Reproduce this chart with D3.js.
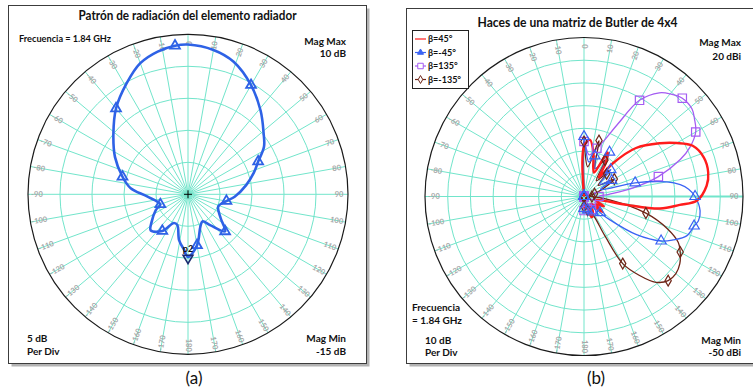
<!DOCTYPE html>
<html>
<head>
<meta charset="utf-8">
<script src="https://cdn.jsdelivr.net/npm/d3@7"></script>
<style>
  html, body { margin: 0; padding: 0; background: #fff; }
  svg { display: block; font-family: Lato, "Open Sans", sans-serif; }
</style>
</head>
<body>
<svg id="chart" width="753" height="389"></svg>
<script>
// ---------------- data ----------------
// spoke labels (degrees, clockwise from the top)
const spokeAngles = [-170,-160,-150,-140,-130,-120,-110,-100,-90,-80,-70,-60,-50,-40,-30,-20,-10,
                     0,10,20,30,40,50,60,70,80,90,100,110,120,130,140,150,160,170,180];

// (a) radiating element pattern, dB
const angA  = [-180,-176,-169,-161,-154,-145,-134,-127,-116,-110,-93,-84,-75,-63,-51,-40,-29,-20,-12,-5,
               0,10,19,30,41,51,58,65,72,81,93,100,112,126,135,144,152,159,170];
const gainA = [-5.2,-6.3,-7.7,-9.9,-10.0,-8.0,-6.9,-7.9,-9.4,-10.4,-8.6,-6.0,-4.4,-2.2,0.0,2.5,4.8,6.8,7.8,8.3,
               8.4,7.9,6.9,4.7,2.3,0.2,-1.0,-2.9,-4.2,-5.8,-7.7,-8.9,-9.9,-8.7,-6.8,-9.0,-10.2,-9.6,-6.9];
const markA = [-145,-110,-75,-40,-5,30,65,100,135,170];
const p2A   = { angle: 180, gain: -5.2 };

// (b) Butler matrix beams, dBi
const backAng = [-165,-150,-135,-120,-105,-90,-75,-60,-45,-30,-15];

const ang45  = [0,6,12,18,23,28,33,38,41,47,55,60,65,72,79,85,92,95,99,101,103,108,116,124,130,138,150,160,170,180];
const gain45 = [-28.0,-24.9,-30.2,-36.8,-38.6,-28.0,-32.4,-39.4,-30.6,-18.7,-9.1,-2.9,2.8,5.5,5.7,4.2,-0.2,-7.7,-16.1,-30.6,
                -43.0,-44.7,-40.3,-43.8,-39.4,-45.6,-42.1,-40.3,-46.5,-44.7];

const angM45  = [0,8,15,22,30,38,45,52,60,67,75,80,83,86,90,97,102,105,111,116,120,126,132,135,142,150,158,165,172,180];
const gainM45 = [-23.6,-34.6,-31.5,-36.8,-27.5,-39.0,-33.3,-41.2,-35.9,-42.1,-26.7,-13.0,-7.3,-3.8,-1.1,1.5,1.5,0.2,-1.6,-6.4,
                 -10.8,-21.4,-34.6,-39.9,-45.6,-42.1,-46.5,-43.8,-47.4,-44.7];

const ang135  = [0,7,15,20,25,30,36,40,45,51,55,60,65,69,75,80,85,90,100,110,122,135,150,165,180];
const gain135 = [-25.8,-31.5,-28.0,-23.6,-14.8,-1.1,6.4,9.0,11.2,11.2,9.4,6.8,1.5,-4.6,-16.1,-28.0,-39.0,-43.4,-41.2,-44.3,
                 -41.6,-45.6,-43.4,-44.7,-43.8];

const angM135  = [0,7,15,22,30,38,45,52,60,68,75,82,90,97,105,111,116,120,125,130,135,140,145,150,152,154,165,172,180];
const gainM135 = [-25.8,-36.8,-24.5,-36.8,-31.5,-41.2,-35.9,-42.1,-34.6,-41.2,-45.2,-47.8,-46.5,-39.0,-21.8,-10.8,-3.8,-1.1,
                  1.5,2.8,2.4,-0.7,-7.7,-15.9,-30.2,-41.2,-43.8,-47.4,-45.6];

// values behind the array sit at the plot floor
const backGain = [-50,-50,-50,-50,-50,-50,-50,-50,-50,-50,-50];

const seriesNames = ["β=45°", "β=-45°", "β=135°", "β=-135°"];

// ---------------- drawing ----------------
const svg = d3.select("#chart");
const gridColor = "#72e5cb";
const labelColor = "#a8a8a8";
const rad = d => d * Math.PI / 180;

function panel(x, y, w, h) {
  svg.append("rect").attr("x", x + 3).attr("y", y + 3).attr("width", w).attr("height", h).attr("fill", "#b3b3b3");
  svg.append("rect").attr("x", x).attr("y", y).attr("width", w).attr("height", h)
    .attr("fill", "#fff").attr("stroke", "#3c3c3c").attr("stroke-width", 1);
}

function fit(sel, w) {
  const n = sel.node();
  if (n.getComputedTextLength() > w) sel.attr("textLength", w).attr("lengthAdjust", "spacingAndGlyphs");
  return sel;
}

function text(x, y, str, opts = {}) {
  const t = svg.append("text").attr("x", x).attr("y", y).text(str)
    .attr("font-size", opts.size || 10)
    .attr("font-weight", opts.weight || 700)
    .attr("text-anchor", opts.anchor || "start")
    .attr("fill", opts.fill || "#111");
  if (opts.fit) fit(t, opts.fit);
  return t;
}

function polarGrid(g, R, nRings, opts = {}) {
  g.selectAll("circle.ring").data(d3.range(1, nRings)).join("circle")
    .attr("r", i => R * i / nRings).attr("fill", "none")
    .attr("stroke", gridColor).attr("stroke-width", 1);
  g.selectAll("line.spoke").data(spokeAngles).join("line")
    .attr("x1", 0).attr("y1", 0)
    .attr("x2", d => R * Math.sin(rad(d))).attr("y2", d => -R * Math.cos(rad(d)))
    .attr("stroke", gridColor)
    .attr("stroke-width", d => (opts.thick90 && d === 90) ? 2.2 : 1);
  g.append("circle").attr("r", R).attr("fill", "none").attr("stroke", "#1a1a1a").attr("stroke-width", 1.2);
  const lr = R - 9;
  g.selectAll("text.alab").data(spokeAngles).join("text")
    .attr("transform", d => {
      const x = lr * Math.sin(rad(d)), y = -lr * Math.cos(rad(d));
      const rot = d > 0 ? d - 90 : d + 90;
      return `translate(${x},${y}) rotate(${rot})`;
    })
    .attr("text-anchor", "middle").attr("dominant-baseline", "central")
    .attr("font-size", 7.5).attr("font-weight", 700).attr("fill", labelColor)
    .text(d => String(d));
}

// ---------- panel (a) ----------
panel(8.5, 5.5, 358, 358);
const A = { cx: 188, cy: 194.3, R: 160 };
const gA = svg.append("g").attr("transform", `translate(${A.cx},${A.cy})`);
polarGrid(gA, A.R, 5);
const rA = d3.scaleLinear().domain([-15, 10]).range([0, A.R]).clamp(true);

const ptsA = angA.map((a, i) => ({ a, g: gainA[i] }));
const lineA = d3.lineRadial().angle(d => rad(d.a)).radius(d => rA(d.g))
  .curve(d3.curveCatmullRomClosed.alpha(0.5));
gA.append("path").datum(ptsA).attr("d", lineA)
  .attr("fill", "none").attr("stroke", "#2e62e6").attr("stroke-width", 2.6);

const tri = d3.symbol(d3.symbolTriangle, 42);
gA.selectAll("path.mk").data(ptsA.filter(d => markA.includes(d.a))).join("path")
  .attr("d", tri)
  .attr("transform", d => `translate(${rA(d.g) * Math.sin(rad(d.a))},${-rA(d.g) * Math.cos(rad(d.a))})`)
  .attr("fill", "none").attr("stroke", "#2e62e6").attr("stroke-width", 1.8);

// marker p2
{
  const r = rA(p2A.gain), x = r * Math.sin(rad(p2A.angle)), y = -r * Math.cos(rad(p2A.angle));
  gA.append("path").attr("d", tri).attr("transform", `translate(${x},${y + 1}) rotate(180)`)
    .attr("fill", "none").attr("stroke", "#1b2b70").attr("stroke-width", 1.6);
  gA.append("text").attr("x", x).attr("y", y - 5).attr("text-anchor", "middle")
    .attr("font-size", 9).attr("font-weight", 700).attr("fill", "#111").text("p2");
}
// centre cross
gA.append("path").attr("d", "M-4,0H4M0,-4V4").attr("stroke", "#000").attr("stroke-width", 1);

text(187.5, 20, "Patrón de radiación del elemento radiador", { size: 13, anchor: "middle", fit: 218 });
text(19, 42, "Frecuencia = 1.84 GHz", { size: 10, fit: 92 });
text(346, 45, "Mag Max", { size: 10, anchor: "end" });
text(346, 57, "10 dB", { size: 10, anchor: "end" });
text(27, 342, "5 dB", { size: 10 });
text(27, 355, "Per Div", { size: 10 });
text(346, 342, "Mag Min", { size: 10, anchor: "end" });
text(346, 355, "-15 dB", { size: 10, anchor: "end" });
text(194, 384, "(a)", { size: 17, weight: 400, anchor: "middle" });

// ---------- panel (b) ----------
panel(406.5, 8.5, 360, 355);
const B = { cx: 584, cy: 196.5, R: 159 };
const gB = svg.append("g").attr("transform", `translate(${B.cx},${B.cy})`);
polarGrid(gB, B.R, 7, { thick90: true });
const rB = d3.scaleLinear().domain([-50, 20]).range([0, B.R]).clamp(true);

const seriesB = [
  { name: seriesNames[2], ang: ang135,  gain: gain135,  color: "#a45cf2", width: 1.3, mark: "square" },
  { name: seriesNames[3], ang: angM135, gain: gainM135, color: "#6e2517", width: 1.3, mark: "diamond" },
  { name: seriesNames[1], ang: angM45,  gain: gainM45,  color: "#3a63f4", width: 1.3, mark: "triangle" },
  { name: seriesNames[0], ang: ang45,   gain: gain45,   color: "#ff1c1c", width: 2.4, mark: null }
];

const symbols = {
  square:   d3.symbol(d3.symbolSquare, 70),
  diamond:  d3.symbol(d3.symbolDiamond, 34),
  triangle: d3.symbol(d3.symbolTriangle, 46)
};

const lineB = d3.lineRadial().angle(d => rad(d.a)).radius(d => rB(d.g))
  .curve(d3.curveCatmullRom.alpha(0.5));
const polarXY = d => [rB(d.g) * Math.sin(rad(d.a)), -rB(d.g) * Math.cos(rad(d.a))];

seriesB.forEach(s => {
  s.pts = backAng.map((a, i) => ({ a, g: backGain[i] }))
    .concat(s.ang.map((a, i) => ({ a, g: s.gain[i] })));
  gB.append("path").datum(s.pts).attr("d", lineB)
    .attr("fill", "none").attr("stroke", s.color).attr("stroke-width", s.width)
    .attr("stroke-linejoin", "round");
});
seriesB.forEach(s => {
  if (!s.mark) return;
  gB.selectAll(null).data(s.pts.filter(d => d.a % 15 === 0)).join("path")
    .attr("d", symbols[s.mark])
    .attr("transform", d => `translate(${polarXY(d)})`)
    .attr("fill", "none").attr("stroke", s.color).attr("stroke-width", 1.2);
});

// legend
{
  const lg = svg.append("g");
  lg.append("rect").attr("x", 412.5).attr("y", 30.5).attr("width", 56).attr("height", 58)
    .attr("fill", "#fff").attr("stroke", "#222").attr("stroke-width", 1);
  const order = [seriesB[3], seriesB[2], seriesB[0], seriesB[1]];
  const legendSym = {
    square:   d3.symbol(d3.symbolSquare, 30),
    diamond:  d3.symbol(d3.symbolDiamond, 18),
    triangle: d3.symbol(d3.symbolTriangle, 16)
  };
  order.forEach((s, i) => {
    const y = 39 + i * 13.5;
    lg.append("line").attr("x1", 415).attr("x2", 426).attr("y1", y).attr("y2", y)
      .attr("stroke", s.color).attr("stroke-width", 1.2);
    if (s.mark) {
      lg.append("path").attr("d", legendSym[s.mark]).attr("transform", `translate(420.5,${y})`)
        .attr("fill", s.mark === "triangle" ? s.color : "#fff").attr("stroke", s.color).attr("stroke-width", 1);
    }
    const t = lg.append("text").attr("x", 428).attr("y", y + 3).attr("font-size", 9).attr("font-weight", 700)
      .attr("fill", "#111").text(s.name);
    fit(t, 38);
  });
}

text(577.5, 27, "Haces de una matriz de Butler de 4x4", { size: 13, anchor: "middle", fit: 200 });
text(741, 46, "Mag Max", { size: 10, anchor: "end" });
text(741, 60, "20 dBi", { size: 10, anchor: "end" });
text(412, 311, "Frecuencia", { size: 10 });
text(412, 324, "= 1.84 GHz", { size: 10 });
text(425, 344, "10 dB", { size: 10 });
text(425, 356, "Per Div", { size: 10 });
text(741, 344, "Mag Min", { size: 10, anchor: "end" });
text(741, 356, "-50 dBi", { size: 10, anchor: "end" });
text(596, 384, "(b)", { size: 17, weight: 400, anchor: "middle" });
</script>
</body>
</html>
